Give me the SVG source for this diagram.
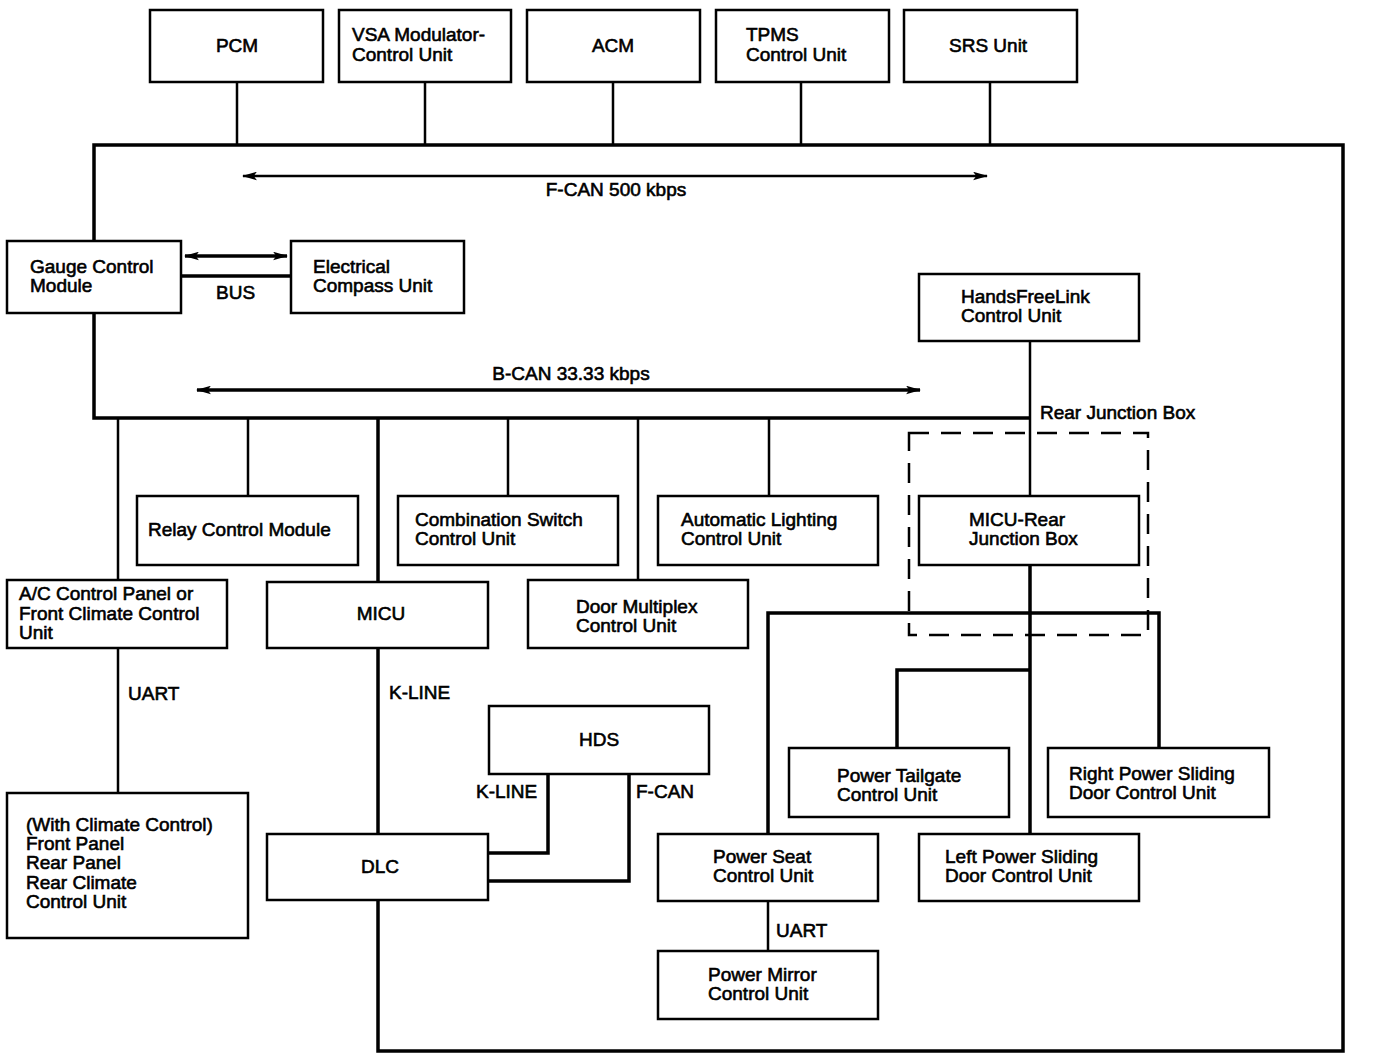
<svg xmlns="http://www.w3.org/2000/svg" width="1376" height="1060" viewBox="0 0 1376 1060">
<style>
.box{fill:#fff;stroke:#000;stroke-width:2.5}
.ln{fill:none;stroke:#000;stroke-width:2.5}
.bus{fill:none;stroke:#000;stroke-width:3.5}
.dash{fill:none;stroke:#000;stroke-width:2.5;stroke-dasharray:20,12}
text{font-family:"Liberation Sans",Arial,sans-serif;font-size:19px;fill:#000;stroke:#000;stroke-width:0.6}
.c{text-anchor:middle}
</style>
<defs>
<marker id="ah" viewBox="0 0 14 8" refX="13" refY="4" markerWidth="15" markerHeight="9" markerUnits="userSpaceOnUse" orient="auto-start-reverse">
<path d="M0,0 L14,4 L0,8 L3,4 Z" fill="#000"/>
</marker>
</defs>
<rect width="1376" height="1060" fill="#fff"/>
<g id="connectors">
<path class="ln" d="M237,82V145M425,82V145M613,82V145M801,82V145M990,82V145"/>
<path class="bus" d="M94,241V145H1343V1051H378V900"/>
<path class="bus" d="M94,313V418H1030"/>
<path class="ln" d="M1030,341V496"/>
<path class="ln" d="M243,176H987" marker-start="url(#ah)" marker-end="url(#ah)"/>
<path class="bus" d="M197,390H920" stroke-width="3" marker-start="url(#ah)" marker-end="url(#ah)"/>
<path class="bus" d="M185,256H287" marker-start="url(#ah)" marker-end="url(#ah)"/>
<path class="bus" d="M181,276H291"/>
<path class="ln" d="M118,418V580M248,418V496M508,418V496M638,418V580M769,418V496"/>
<path class="bus" d="M378,418V582"/>
<path class="ln" d="M118,648V793"/>
<path class="bus" d="M378,648V834"/>
<path class="bus" d="M548,774V853H488M629,774V881H488"/>
<path class="bus" d="M768,834V613H1159V748"/>
<path class="bus" d="M1030,565V834M1030,670H897V748"/>
<path class="ln" d="M768,901V951"/>
<rect class="dash" x="909" y="433" width="239" height="202"/>
</g>
<g id="pcm"><rect class="box" x="150" y="10" width="173" height="72"/><text class="c" x="237" y="52">PCM</text></g>
<g id="vsa"><rect class="box" x="339" y="10" width="172" height="72"/><text x="352" y="41">VSA Modulator-</text><text x="352" y="61">Control Unit</text></g>
<g id="acm"><rect class="box" x="527" y="10" width="173" height="72"/><text class="c" x="613" y="52">ACM</text></g>
<g id="tpms"><rect class="box" x="716" y="10" width="173" height="72"/><text x="746" y="41">TPMS</text><text x="746" y="61">Control Unit</text></g>
<g id="srs"><rect class="box" x="904" y="10" width="173" height="72"/><text x="949" y="52">SRS Unit</text></g>
<text class="c" x="616" y="196">F-CAN 500 kbps</text>
<g id="gauge"><rect class="box" x="7" y="241" width="174" height="72"/><text x="30" y="273">Gauge Control</text><text x="30" y="292">Module</text></g>
<g id="compass"><rect class="box" x="291" y="241" width="173" height="72"/><text x="313" y="273">Electrical</text><text x="313" y="292">Compass Unit</text></g>
<text x="216" y="299">BUS</text>
<g id="hfl"><rect class="box" x="919" y="274" width="220" height="67"/><text x="961" y="303">HandsFreeLink</text><text x="961" y="322">Control Unit</text></g>
<text class="c" x="571" y="380">B-CAN 33.33 kbps</text>
<text x="1040" y="419">Rear Junction Box</text>
<g id="relay"><rect class="box" x="137" y="496" width="221" height="69"/><text x="148" y="536">Relay Control Module</text></g>
<g id="combo"><rect class="box" x="398" y="496" width="220" height="69"/><text x="415" y="526">Combination Switch</text><text x="415" y="545">Control Unit</text></g>
<g id="autolight"><rect class="box" x="658" y="496" width="220" height="69"/><text x="681" y="526">Automatic Lighting</text><text x="681" y="545">Control Unit</text></g>
<g id="micurear"><rect class="box" x="919" y="496" width="220" height="69"/><text x="969" y="526">MICU-Rear</text><text x="969" y="545">Junction Box</text></g>
<g id="ac"><rect class="box" x="7" y="580" width="220" height="68"/><text x="19" y="600">A/C Control Panel or</text><text x="19" y="620">Front Climate Control</text><text x="19" y="639">Unit</text></g>
<g id="micu"><rect class="box" x="267" y="582" width="221" height="66"/><text class="c" x="381" y="620">MICU</text></g>
<g id="doormux"><rect class="box" x="528" y="580" width="220" height="68"/><text x="576" y="613">Door Multiplex</text><text x="576" y="632">Control Unit</text></g>
<text x="128" y="700">UART</text>
<text x="389" y="699">K-LINE</text>
<g id="hds"><rect class="box" x="489" y="706" width="220" height="68"/><text class="c" x="599" y="746">HDS</text></g>
<text x="476" y="798">K-LINE</text>
<text x="636" y="798">F-CAN</text>
<g id="dlc"><rect class="box" x="267" y="834" width="221" height="66"/><text class="c" x="380" y="873">DLC</text></g>
<g id="climate"><rect class="box" x="7" y="793" width="241" height="145"/><text x="26" y="831">(With Climate Control)</text><text x="26" y="850">Front Panel</text><text x="26" y="869">Rear Panel</text><text x="26" y="889">Rear Climate</text><text x="26" y="908">Control Unit</text></g>
<g id="tailgate"><rect class="box" x="789" y="748" width="220" height="69"/><text x="837" y="782">Power Tailgate</text><text x="837" y="801">Control Unit</text></g>
<g id="rpsd"><rect class="box" x="1048" y="748" width="221" height="69"/><text x="1069" y="780">Right Power Sliding</text><text x="1069" y="799">Door Control Unit</text></g>
<g id="seat"><rect class="box" x="658" y="834" width="220" height="67"/><text x="713" y="863">Power Seat</text><text x="713" y="882">Control Unit</text></g>
<g id="lpsd"><rect class="box" x="919" y="834" width="220" height="67"/><text x="945" y="863">Left Power Sliding</text><text x="945" y="882">Door Control Unit</text></g>
<text x="776" y="937">UART</text>
<g id="mirror"><rect class="box" x="658" y="951" width="220" height="68"/><text x="708" y="981">Power Mirror</text><text x="708" y="1000">Control Unit</text></g>
</svg>
